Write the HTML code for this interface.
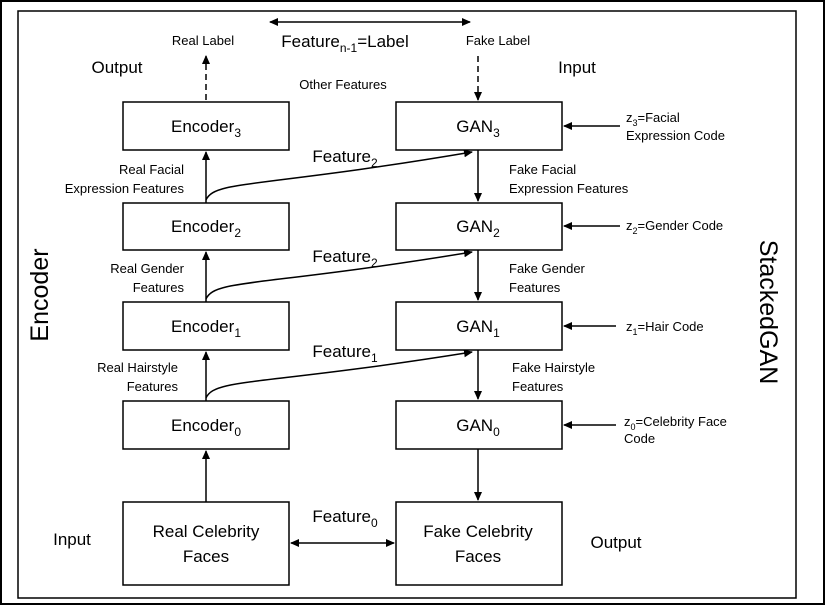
<!DOCTYPE html>
<html><head><meta charset="utf-8"><style>
body{margin:0;background:#fff}
svg{display:block;font-family:"Liberation Sans",sans-serif}
</style></head><body>
<svg width="825" height="605" viewBox="0 0 825 605">
<defs><marker id="ah" markerWidth="10" markerHeight="10" refX="8" refY="4" orient="auto" markerUnits="userSpaceOnUse"><path d="M0,0 L9,4 L0,8 z" fill="#000"/></marker>
<marker id="as" markerWidth="10" markerHeight="10" refX="1" refY="4" orient="auto" markerUnits="userSpaceOnUse"><path d="M9,0 L0,4 L9,8 z" fill="#000"/></marker></defs>
<rect x="1" y="1" width="823" height="603" fill="#fff" stroke="#000" stroke-width="2"/>
<rect x="18" y="11" width="778" height="587" fill="none" stroke="#000" stroke-width="1.5"/>
<g fill="#fff" stroke="#000" stroke-width="1.5">
<rect x="123" y="102" width="166" height="48"/>
<rect x="123" y="203" width="166" height="47"/>
<rect x="123" y="302" width="166" height="48"/>
<rect x="123" y="401" width="166" height="48"/>
<rect x="123" y="502" width="166" height="83"/>
<rect x="396" y="102" width="166" height="48"/>
<rect x="396" y="203" width="166" height="47"/>
<rect x="396" y="302" width="166" height="48"/>
<rect x="396" y="401" width="166" height="48"/>
<rect x="396" y="502" width="166" height="83"/>
</g>
<g stroke="#000" stroke-width="1.5" fill="none" marker-end="url(#ah)">
<line x1="206" y1="100" x2="206" y2="56" stroke-dasharray="6,4"/>
<line x1="206" y1="203" x2="206" y2="152"/>
<line x1="206" y1="302" x2="206" y2="252"/>
<line x1="206" y1="401" x2="206" y2="352"/>
<line x1="206" y1="502" x2="206" y2="451"/>
<line x1="478" y1="56" x2="478" y2="100" stroke-dasharray="6,4"/>
<line x1="478" y1="150" x2="478" y2="201"/>
<line x1="478" y1="250" x2="478" y2="300"/>
<line x1="478" y1="350" x2="478" y2="399"/>
<line x1="478" y1="449" x2="478" y2="500"/>
<path d="M206,200 C215,180 260,188 472,152"/>
<path d="M206,299 C215,279 260,287 472,252"/>
<path d="M206,398 C215,378 260,386 472,352"/>
<line x1="620" y1="126" x2="564" y2="126"/>
<line x1="620" y1="226" x2="564" y2="226"/>
<line x1="616" y1="326" x2="564" y2="326"/>
<line x1="616" y1="425" x2="564" y2="425"/>
<line x1="291" y1="543" x2="394" y2="543" marker-start="url(#as)"/>
<line x1="270" y1="22" x2="470" y2="22" marker-start="url(#as)"/>
</g>
<g font-size="17" text-anchor="middle" fill="#000">
<text x="206" y="132">Encoder<tspan font-size="12" dy="5">3</tspan></text>
<text x="206" y="232">Encoder<tspan font-size="12" dy="5">2</tspan></text>
<text x="206" y="332">Encoder<tspan font-size="12" dy="5">1</tspan></text>
<text x="206" y="431">Encoder<tspan font-size="12" dy="5">0</tspan></text>
<text x="478" y="132">GAN<tspan font-size="12" dy="5">3</tspan></text>
<text x="478" y="232">GAN<tspan font-size="12" dy="5">2</tspan></text>
<text x="478" y="332">GAN<tspan font-size="12" dy="5">1</tspan></text>
<text x="478" y="431">GAN<tspan font-size="12" dy="5">0</tspan></text>
<text x="206" y="537">Real Celebrity</text>
<text x="206" y="562">Faces</text>
<text x="478" y="537">Fake Celebrity</text>
<text x="478" y="562">Faces</text>
<text x="345" y="47">Feature<tspan font-size="12" dy="5">n-1</tspan><tspan dy="-5">=Label</tspan></text>
<text x="345" y="162">Feature<tspan font-size="12" dy="5">2</tspan></text>
<text x="345" y="262">Feature<tspan font-size="12" dy="5">2</tspan></text>
<text x="345" y="357">Feature<tspan font-size="12" dy="5">1</tspan></text>
<text x="345" y="522">Feature<tspan font-size="12" dy="5">0</tspan></text>
<text x="117" y="73">Output</text>
<text x="577" y="73">Input</text>
<text x="72" y="545">Input</text>
<text x="616" y="548">Output</text>
</g>
<g font-size="13" fill="#000">
<text x="203" y="45" text-anchor="middle">Real Label</text>
<text x="498" y="45" text-anchor="middle">Fake Label</text>
<text x="343" y="89" text-anchor="middle">Other Features</text>
<g text-anchor="end">
<text x="184" y="174">Real Facial</text>
<text x="184" y="193">Expression Features</text>
<text x="184" y="273">Real Gender</text>
<text x="184" y="292">Features</text>
<text x="178" y="372">Real Hairstyle</text>
<text x="178" y="391">Features</text>
</g>
<text x="509" y="174">Fake Facial</text>
<text x="509" y="193">Expression Features</text>
<text x="509" y="273">Fake Gender</text>
<text x="509" y="292">Features</text>
<text x="512" y="372">Fake Hairstyle</text>
<text x="512" y="391">Features</text>
<text x="626" y="122">z<tspan font-size="9" dy="4">3</tspan><tspan dy="-4">=Facial</tspan></text>
<text x="626" y="140">Expression Code</text>
<text x="626" y="230">z<tspan font-size="9" dy="4">2</tspan><tspan dy="-4">=Gender Code</tspan></text>
<text x="626" y="331">z<tspan font-size="9" dy="4">1</tspan><tspan dy="-4">=Hair Code</tspan></text>
<text x="624" y="426">z<tspan font-size="9" dy="4">0</tspan><tspan dy="-4">=Celebrity Face</tspan></text>
<text x="624" y="443">Code</text>
</g>
<text transform="translate(48,295) rotate(-90)" font-size="25" text-anchor="middle">Encoder</text>
<text transform="translate(760,312) rotate(90)" font-size="25" text-anchor="middle">StackedGAN</text>
</svg>
</body></html>
